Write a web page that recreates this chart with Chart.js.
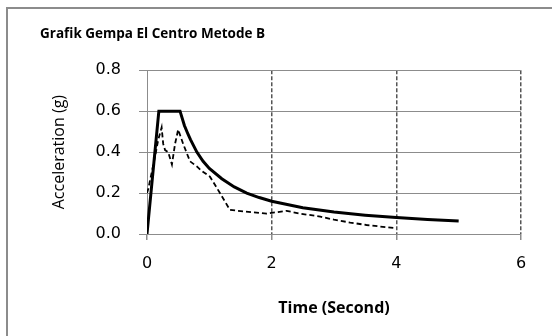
<!DOCTYPE html>
<html>
<head>
<meta charset="utf-8">
<script src="https://cdn.jsdelivr.net/npm/chart.js@4/dist/chart.umd.min.js"></script>
<style>
  html, body { margin: 0; padding: 0; background: #fff; }
  #wrap { width: 552px; height: 336px; position: relative; }
</style>
</head>
<body>
<div id="wrap"><canvas id="chart"></canvas></div>
<script>
// Design spectrum (solid line)
const designT = [0, 0.19, 0.53, 0.6, 0.66, 0.7, 0.8, 0.9, 1.0, 1.2, 1.4, 1.6, 1.8, 2.0, 2.5, 3.0, 3.5, 4.0, 4.5, 5.0];
const designSa = [0, 0.6, 0.6, 0.53, 0.486, 0.46, 0.40, 0.355, 0.32, 0.27, 0.23, 0.2, 0.178, 0.16, 0.128, 0.107, 0.092, 0.08, 0.071, 0.064];

// El Centro response spectrum (dashed line)
const responseT = [0, 0.02, 0.075, 0.13, 0.18, 0.235, 0.26, 0.29, 0.34, 0.40, 0.45, 0.50, 0.58, 0.69, 0.80, 0.87, 1.01, 1.17, 1.33, 1.55, 1.92, 2.24, 2.45, 2.78, 3.0, 3.26, 3.52, 4.0];
const responseSa = [0.2, 0.22, 0.30, 0.38, 0.46, 0.52, 0.44, 0.41, 0.40, 0.34, 0.44, 0.51, 0.44, 0.355, 0.33, 0.31, 0.28, 0.20, 0.118, 0.11, 0.10, 0.113, 0.10, 0.085, 0.07, 0.056, 0.044, 0.028];

// Axis ticks
const xTicks = [0, 2, 4, 6];
const yTicks = [0, 0.2, 0.4, 0.6, 0.8];

const toPoints = (xs, ys) => xs.map((x, i) => ({ x: x, y: ys[i] }));

// Outer frame (only left and top edges visible in the picture)
const framePlugin = {
  id: "frame",
  afterDraw(chart) {
    const c = chart.ctx;
    c.save();
    c.strokeStyle = "#8c8c8c";
    c.lineWidth = 2;
    c.beginPath();
    c.moveTo(7, 336);
    c.lineTo(7, 8);
    c.lineTo(552, 8);
    c.stroke();
    c.restore();
  },
};

const ctx = document.getElementById("chart").getContext("2d");
new Chart(ctx, {
  type: "line",
  data: {
    datasets: [
      {
        label: "Desain",
        data: toPoints(designT, designSa),
        borderColor: "#000",
        borderWidth: 3,
        pointRadius: 0,
        tension: 0,
        fill: false,
      },
      {
        label: "El Centro",
        data: toPoints(responseT, responseSa),
        borderColor: "#000",
        borderWidth: 1.8,
        borderDash: [5, 3],
        pointRadius: 0,
        tension: 0,
        fill: false,
      },
    ],
  },
  options: {
    responsive: true,
    maintainAspectRatio: false,
    animation: false,
    layout: {
      padding: { left: 40, right: 31, top: 0, bottom: 0 },
    },
    plugins: {
      legend: { display: false },
      tooltip: { enabled: false },
      title: {
        display: true,
        text: "Grafik Gempa El Centro Metode B",
        align: "start",
        color: "#000",
        font: { family: "Open Sans", size: 13.5, weight: "bold" },
        padding: { top: 26, bottom: 28 },
      },
    },
    scales: {
      x: {
        type: "linear",
        min: 0,
        max: 6,
        afterBuildTicks: (axis) => {
          axis.ticks = xTicks.map((v) => ({ value: v }));
        },
        afterFit: (axis) => {
          axis.height = 102;
        },
        ticks: {
          color: "#000",
          font: { family: "DejaVu Sans", size: 16 },
          padding: 14,
          maxRotation: 0,
        },
        grid: {
          color: (c) => (c.tick && c.tick.value === 0 ? "rgba(0,0,0,0)" : "#555"),
          lineWidth: 1.5,
          tickLength: 6,
          tickColor: "#8c8c8c",
          tickBorderDash: [],
        },
        border: { display: true, color: "#8c8c8c", width: 1, dash: [4, 2] },
        title: {
          display: true,
          text: "Time (Second)",
          color: "#000",
          font: { family: "Open Sans", size: 16, weight: "bold" },
          padding: { top: 0, bottom: 18 },
        },
      },
      y: {
        min: 0,
        max: 0.8,
        afterBuildTicks: (axis) => {
          axis.ticks = yTicks.map((v) => ({ value: v }));
        },
        afterFit: (axis) => {
          axis.width = 107;
        },
        ticks: {
          color: "#000",
          font: { family: "DejaVu Sans", size: 16 },
          padding: 18,
          callback: (v) => Number(v).toFixed(1),
        },
        grid: {
          color: "#8c8c8c",
          lineWidth: 1,
          tickLength: 8,
        },
        border: { display: true, color: "#8c8c8c", width: 1 },
        title: {
          display: true,
          text: "Acceleration (g)",
          color: "#000",
          font: { family: "Open Sans", size: 16 },
          padding: { top: 10, bottom: 0 },
        },
      },
    },
  },
  plugins: [framePlugin],
});
</script>
</body>
</html>
